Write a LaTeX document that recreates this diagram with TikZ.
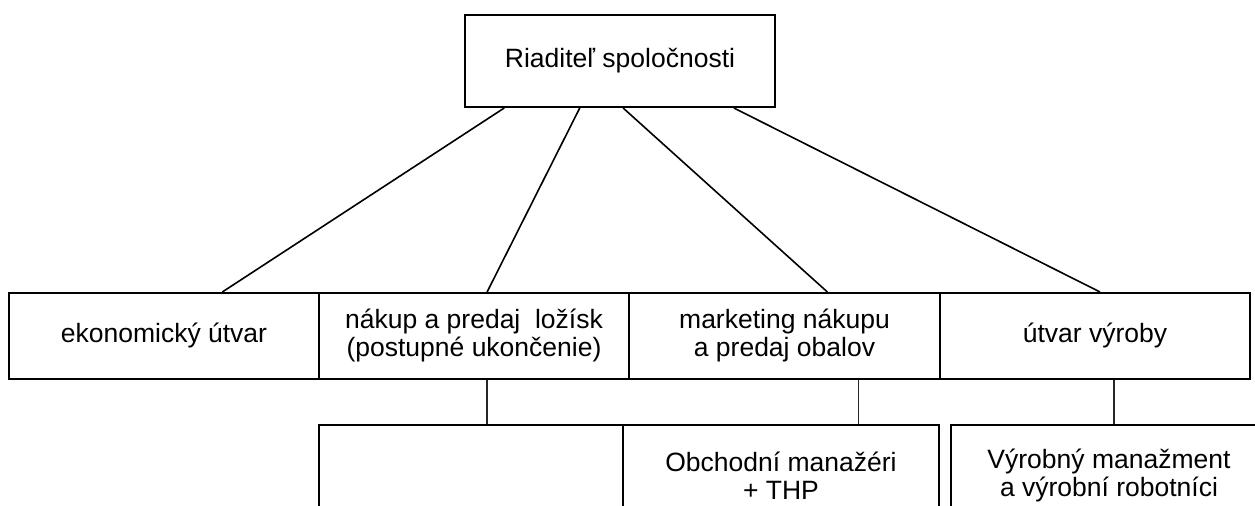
\documentclass[tikz,border=0pt]{standalone}
\usepackage{fontspec}
\setmainfont{Liberation Sans}
\usetikzlibrary{calc}

\tikzset{
	box/.style={draw, line width=1pt, rectangle, align=center, inner sep=0pt,
		font=\fontsize{13.25}{14}\selectfont},
	link/.style={line width=0.8pt},
	stem/.style={line width=0.7pt, color=black!85}
}

\begin{document}
\begin{tikzpicture}[x=0.5pt, y=-0.5pt]
		%%%%% START %%%%%
		
		\clip (0, 0) rectangle (1255, 506);
		
		% riaditel
		\node[box, minimum width=155pt, minimum height=46pt] (boss) at (620, 61) {Riaditeľ spoločnosti};
		
		% utvary
		\node[box, minimum width=155pt, minimum height=43pt] (econ) at (164, 336) {ekonomický útvar};
		\node[box, minimum width=155pt, minimum height=43pt] (nakup) at (474, 336) {nákup a predaj~ ložísk\\(postupné ukončenie)};
		\node[box, minimum width=155.5pt, minimum height=43pt] (markt) at (784.5, 336) {marketing nákupu\\a predaj obalov};
		\node[box, minimum width=155pt, minimum height=43pt] (vyroba) at (1095, 336) {útvar výroby};
		
		% spodne utvary
		\node[box, minimum width=152pt, minimum height=51pt] (lowA) at (471, 476) {};
		\node[box, minimum width=158pt, minimum height=51pt] (lowB) at (781, 476) {Obchodní manažéri\\+ THP};
		\node[box, minimum width=158pt, minimum height=51pt] (lowC) at (1109, 476) {Výrobný manažment\\a výrobní robotníci};
		
		\draw[link] ($(boss.south west)!0.129!(boss.south east)$) -- ($(econ.north west)!0.687!(econ.north east)$);
		\draw[link] ($(boss.south west)!0.371!(boss.south east)$) -- ($(nakup.north west)!0.542!(nakup.north east)$);
		\draw[link] ($(boss.south west)!0.51!(boss.south east)$) -- ($(markt.north west)!0.637!(markt.north east)$);
		\draw[link] ($(boss.south west)!0.865!(boss.south east)$) -- ($(vyroba.north west)!0.516!(vyroba.north east)$);
		
		\coordinate (s1) at ($(nakup.south west)!0.542!(nakup.south east)$);
		\coordinate (s2) at ($(markt.south west)!0.736!(markt.south east)$);
		\coordinate (s3) at ($(vyroba.south west)!0.561!(vyroba.south east)$);
		\draw[stem] (s1) -- (s1 |- lowA.north);
		\draw[stem] (s2) -- (s2 |- lowB.north);
		\draw[stem] (s3) -- (s3 |- lowC.north);
		
		%%%%% END %%%%%
	\end{tikzpicture}
\end{document}
